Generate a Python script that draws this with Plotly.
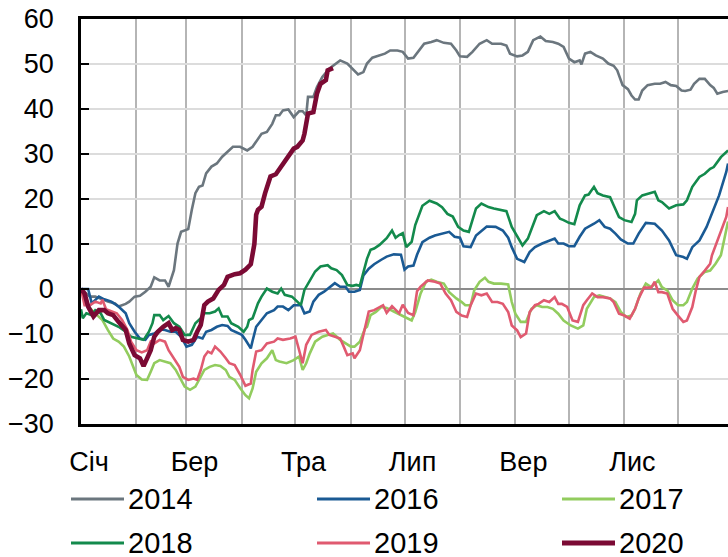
import plotly.graph_objects as go

# ---- axis data ----
month_starts = [0, 31, 59, 90, 120, 151, 181, 212, 243, 273, 304, 334]
month_labels = ["Січ", "Бер", "Тра", "Лип", "Вер", "Лис"]
y_ticks = [-30, -20, -10, 0, 10, 20, 30, 40, 50, 60]

# ---- series (day of year from 1 Jan = 0, value) ----
d2014 = [0,5,8,12,15,19,21,25,27,30,33,36,39,41,44,47,49,52,54,56,60,62,64,66,68,70,73,76,79,82,85,89,93,96,99,101,104,107,109,111,113,116,119,122,124,126,127,130,132,135,139,143,145,149,152,155,158,160,163,167,170,173,177,180,183,186,189,192,196,199,203,207,210,212,216,219,223,227,230,235,238,240,244,247,250,253,257,260,264,267,270,273,276,279,280,282,285,288,292,295,298,300,303,306,308,310,312,314,317,321,324,327,330,333,336,338,341,343,346,349,352,354,356,359,362]
v2014 = [0,-1.7,-1.7,-2.4,-2.8,-3.2,-3.9,-3.3,-2.8,-1.7,-1.5,-0.6,0.5,2.6,1.9,1.9,0.5,4.2,10.1,12.7,13.3,17.6,21.3,22.7,23.0,25.7,27.2,27.9,29.4,30.5,31.6,31.6,30.8,31.6,33.4,34.5,34.9,36.7,38.6,38.6,39.7,39.9,38.2,39.5,39.5,38.6,42.7,42.7,44.9,47.1,49.0,50.1,50.8,50.1,49.0,47.7,48.2,50.1,51.4,51.9,52.3,53.0,53.0,52.7,51.2,51.4,53.0,54.5,54.9,55.3,54.7,54.5,53.0,51.7,51.6,52.7,54.5,55.3,54.5,54.5,54.1,52.3,51.7,51.9,52.7,55.3,56.1,55.1,54.9,54.5,53.8,51.2,50.4,50.8,49.9,52.3,52.7,51.9,51.2,50.1,49.6,48.6,45.3,44.4,43.0,42.1,42.1,44.1,45.3,45.6,45.6,46.0,45.3,45.1,44.1,44.0,44.3,45.6,46.7,46.7,45.3,44.7,43.4,43.8,44.0]

d2016 = [0,4,6,10,13,17,21,25,27,30,33,36,38,41,44,47,50,53,56,59,62,65,68,70,73,76,79,82,84,87,90,92,94,95,96,98,101,104,108,110,113,116,119,123,125,128,130,133,136,138,142,145,148,150,153,156,158,161,164,168,171,175,179,181,183,186,188,191,195,198,203,206,209,212,214,218,221,224,227,232,236,239,241,244,248,251,254,258,262,265,267,270,273,276,279,282,287,290,293,296,299,302,306,309,312,316,321,325,329,333,337,339,342,346,350,353,357,361,362]
v2016 = [0,0,-3.2,-1.7,-2.3,-2.8,-3.9,-5.4,-7.6,-9.5,-11.0,-11.3,-10.2,-9.9,-9.0,-9.1,-9.5,-9.5,-10.6,-12.8,-12.4,-10.6,-11.0,-9.5,-9.1,-8.4,-8.0,-8.2,-9.1,-9.7,-10.2,-11.3,-12.8,-13.2,-11.5,-8.4,-6.9,-5.4,-4.7,-3.9,-3.9,-4.7,-3.6,-3.6,-5.4,-5.0,-2.8,-1.3,-0.6,0.1,1.3,0.5,0.5,-0.6,-0.6,-0.2,3.0,4.5,5.5,6.5,7.2,7.7,7.6,4.3,5.0,5.2,7.6,10.4,11.4,11.9,12.3,12.7,11.6,11.4,9.5,9.3,11.9,13.0,13.9,13.8,13.0,11.4,9.3,6.7,6.0,8.2,9.3,10.1,10.8,11.2,10.1,10.1,9.5,9.5,11.6,13.4,14.5,15.3,13.8,13.4,12.3,11.0,10.1,10.1,12.3,14.7,14.5,13.0,10.8,7.5,7.1,6.7,9.3,10.8,13.8,16.7,20.8,26.0,27.9]

d2017 = [0,4,9,12,15,18,21,24,27,29,31,34,37,39,41,44,47,50,53,55,58,61,64,67,69,72,75,78,81,83,86,89,92,94,96,98,101,104,107,109,111,115,119,122,124,126,128,131,135,138,141,145,148,151,153,156,159,160,162,165,168,171,175,178,181,185,187,190,193,196,199,203,206,210,213,215,218,220,223,226,228,231,235,239,241,243,246,249,252,255,258,261,264,267,270,274,278,281,283,287,290,293,296,299,302,305,308,310,313,316,319,323,325,328,331,334,337,339,342,345,349,352,355,358,361,362]
v2017 = [0,-3.9,-5.8,-6.9,-9.1,-11.0,-11.7,-12.8,-15.0,-17.3,-19.1,-20.1,-20.2,-18.4,-16.5,-15.8,-16.1,-16.5,-18.0,-19.5,-21.7,-22.4,-21.7,-19.5,-18.0,-17.3,-16.9,-17.1,-18.0,-19.5,-20.2,-22.0,-23.6,-24.3,-22.1,-18.4,-16.5,-15.4,-13.6,-15.8,-16.1,-16.5,-15.8,-15.0,-18.0,-16.5,-14.3,-11.7,-10.6,-10.2,-9.9,-11.3,-12.1,-12.8,-12.8,-11.7,-8.7,-8.4,-5.8,-5.1,-4.0,-4.2,-5.0,-5.6,-6.2,-7.0,-5.1,-1.0,1.6,2.1,1.6,1.2,-0.7,-2.1,-2.9,-3.6,-3.6,-0.3,1.6,2.5,1.6,1.2,1.2,1.0,-2.9,-5.5,-7.3,-7.3,-4.4,-3.6,-4.0,-4.0,-4.4,-5.5,-7.0,-8.1,-8.8,-8.1,-4.4,-1.8,-1.4,-1.8,-2.1,-2.9,-5.1,-6.2,-5.9,-4.4,-1.0,1.2,0.4,1.9,0.4,-0.3,-2.5,-3.6,-3.6,-2.9,0.1,2.3,3.8,4.1,5.6,7.5,13.0,15.0]

d2018 = [0,1,3,6,8,11,13,17,21,25,28,32,35,38,40,41,44,46,49,52,55,58,61,64,67,69,72,75,77,79,82,84,88,91,93,94,96,99,101,104,107,110,112,114,118,121,123,125,128,131,134,138,140,143,146,149,152,154,156,158,160,162,164,167,171,174,176,178,180,182,185,187,190,191,195,199,202,205,208,211,214,217,219,221,224,228,231,235,238,241,244,247,250,253,255,259,262,265,268,270,273,276,279,282,284,287,289,292,296,298,301,304,308,310,311,314,317,321,323,325,329,333,337,339,342,346,349,352,354,358,362]
v2018 = [-4.5,-6.5,-5.4,-5.8,-4.7,-5.4,-6.9,-7.6,-8.4,-9.5,-10.6,-11.0,-11.3,-9.5,-7.6,-5.8,-5.8,-6.9,-6.0,-7.6,-8.4,-10.2,-10.2,-7.6,-6.5,-5.4,-5.4,-5.0,-4.3,-6.1,-6.1,-7.6,-8.4,-9.5,-8.4,-6.9,-6.5,-3.2,-1.7,0.1,-0.6,-1.0,0.1,-1.3,-1.7,-2.8,-3.6,-0.2,2.0,3.9,5.0,5.3,4.6,4.2,3.1,0.9,0.7,0.9,0.7,4.0,6.7,8.7,9.0,9.8,11.3,13.0,11.4,12.0,12.4,9.3,10.5,14.2,17.2,18.5,19.6,19.0,18.2,16.7,16.1,13.8,13.0,12.7,15.3,17.9,19.0,18.2,17.9,17.5,17.3,13.8,11.9,9.7,11.2,14.5,16.4,17.3,16.7,17.3,15.6,15.3,14.7,14.4,18.6,20.8,21.0,22.7,21.3,20.8,20.4,18.6,16.0,15.3,14.9,16.7,19.7,20.8,21.2,21.6,19.7,19.3,17.9,18.6,18.8,19.7,22.7,24.9,25.6,26.7,27.1,29.3,30.8]

d2019 = [0,2,5,8,11,12,14,17,20,23,26,28,31,34,37,39,41,44,47,49,52,55,57,60,63,65,67,69,71,73,75,78,81,83,86,89,92,95,96,98,101,104,108,110,113,117,120,122,124,126,129,133,137,139,142,145,147,149,152,153,156,159,161,164,167,169,171,174,178,180,183,186,188,190,194,198,201,204,207,210,213,216,218,221,224,227,230,233,236,239,241,244,246,249,251,254,256,259,262,265,267,269,272,275,278,281,283,286,289,292,296,298,301,304,307,310,312,315,319,321,323,325,328,331,334,337,339,342,344,346,349,352,353,356,359,361,362]
v2019 = [0,-3.6,-3.6,-2.8,-3.2,-2.4,-4.5,-5.0,-5.4,-6.9,-9.1,-11.7,-13.6,-14.1,-13.6,-11.7,-12.1,-11.3,-11.7,-13.6,-15.4,-17.3,-19.5,-20.2,-19.9,-20.2,-18.0,-15.0,-13.9,-14.3,-12.8,-13.9,-15.4,-16.5,-16.9,-19.0,-21.5,-21.0,-18.0,-13.9,-13.6,-12.1,-11.7,-11.0,-11.3,-11.0,-10.6,-13.6,-16.5,-12.4,-10.2,-9.5,-9.1,-10.2,-10.6,-11.0,-12.8,-14.7,-14.3,-15.4,-13.6,-8.4,-5.0,-4.7,-4.0,-3.6,-5.3,-3.8,-5.4,-3.5,-5.3,-5.8,-0.5,0.5,1.9,1.6,1.2,-1.0,-2.5,-5.1,-5.9,-6.2,-3.6,-1.0,-1.4,-1.0,-2.9,-2.9,-3.3,-5.1,-8.1,-9.2,-10.7,-9.9,-5.1,-3.6,-3.3,-2.5,-2.9,-1.8,-3.3,-3.3,-4.0,-7.0,-7.3,-3.6,-2.5,-1.0,-1.8,-1.8,-2.1,-2.9,-5.5,-5.9,-6.6,-4.4,-2.1,0.3,0.3,1.6,-0.7,-0.7,-1.0,-4.4,-5.9,-7.3,-7.0,-4.0,-0.3,2.7,4.1,5.6,7.5,10.8,13.8,16.0,18.2]

d2020 = [0,2,4,7,10,13,15,18,21,25,27,30,33,35,37,39,41,43,46,49,51,53,55,57,60,63,65,67,69,71,74,77,80,82,86,89,92,95,97,98,99,101,103,106,109,112,114,117,119,121,124,125,127,130,132,134,137,138,141]
v2020 = [0,-1.0,-3.9,-6.1,-4.7,-4.7,-5.4,-5.8,-7.3,-9.1,-12.1,-14.7,-15.4,-17.1,-15.4,-13.6,-10.6,-9.5,-8.4,-7.6,-9.1,-8.7,-9.1,-11.3,-11.7,-11.3,-9.5,-8.0,-3.6,-2.8,-2.1,-0.2,0.9,2.7,3.3,3.5,4.3,5.5,10.0,16.5,17.6,18.3,21.3,25.0,25.5,27.1,28.5,30.0,31.2,31.6,33.0,34.5,39.0,39.3,43.4,45.6,46.4,48.6,49.1]

names = ["2014", "2016", "2017", "2018", "2019", "2020"]
xs = [d2014, d2016, d2017, d2018, d2019, d2020]
ys = [v2014, v2016, v2017, v2018, v2019, v2020]
colors = ["#6b767e", "#1a5a94", "#92cc5e", "#138a4c", "#e05a70", "#7b0a34"]
widths = [2.6, 2.6, 2.6, 2.6, 2.6, 4.6]

FONT = "Liberation Sans, Arial, sans-serif"

fig = go.Figure()
for n, x, y, c, w in zip(names, xs, ys, colors, widths):
    fig.add_trace(go.Scatter(x=x, y=y, mode="lines", name=n,
                             line=dict(color=c, width=w), showlegend=False))

# ---- geometry ----
W, H = 728, 557
ml, mr, mt, mb = 81, 0, 19, H - 424
pw, ph = W - ml - mr, H - mt - mb
x_end = (W - ml) / 1.7874  # day at the right edge of the plot area

def px(page_x):
    return (page_x - ml) / pw

def py(page_y):
    return (H - mb - page_y) / ph

# ---- custom legend (3 columns x 2 rows) below the plot ----
col_x = [71, 317, 562]
row_y = [499, 543]
line_len = 53
for i, (n, c, w) in enumerate(zip(names, colors, widths)):
    cx = col_x[i % 3]
    ry = row_y[i // 3]
    fig.add_shape(type="line", xref="paper", yref="paper",
                  x0=px(cx), x1=px(cx + line_len), y0=py(ry), y1=py(ry),
                  line=dict(color=c, width=w + 0.6))
    fig.add_annotation(xref="paper", yref="paper", x=px(cx + line_len + 2), y=py(ry),
                       text=n, showarrow=False, xanchor="left", yanchor="middle",
                       font=dict(family=FONT, size=29, color="#000000"))

fig.update_layout(
    width=W, height=H,
    margin=dict(l=ml, r=mr, t=mt, b=mb, pad=0, autoexpand=False),
    paper_bgcolor="white", plot_bgcolor="white",
    font=dict(family=FONT, size=27, color="#000000"),
    xaxis=dict(
        automargin=False,
        range=[0, x_end],
        tickmode="array",
        tickvals=[month_starts[i] + 4.5 for i in range(0, 12, 2)],
        ticktext=month_labels,
        showgrid=False,
        ticks="",
        ticklabelstandoff=12,
        showline=True, linecolor="#000000", linewidth=2.5, mirror=True,
        zeroline=False,
        minor=dict(tickmode="array", tickvals=month_starts[1:], showgrid=True,
                   gridcolor="#b5b5b5", gridwidth=2, ticks=""),
        tickfont=dict(family=FONT, size=27),
    ),
    yaxis=dict(
        automargin=False,
        range=[-30, 60],
        tickmode="array", tickvals=y_ticks,
        showgrid=True, gridcolor="#dcdcdc", gridwidth=2,
        zeroline=True, zerolinecolor="#8c8c8c", zerolinewidth=2,
        showline=True, linecolor="#000000", linewidth=2.5, mirror=False,
        ticks="inside", ticklen=8, tickwidth=2, tickcolor="#000000",
        ticklabelstandoff=19,
        tickfont=dict(family=FONT, size=27),
    ),
)

fig.write_html("out.html",
               config={"displayModeBar": False},
               post_script="document.body.style.margin='0';"
                           "document.documentElement.style.overflow='hidden';")
